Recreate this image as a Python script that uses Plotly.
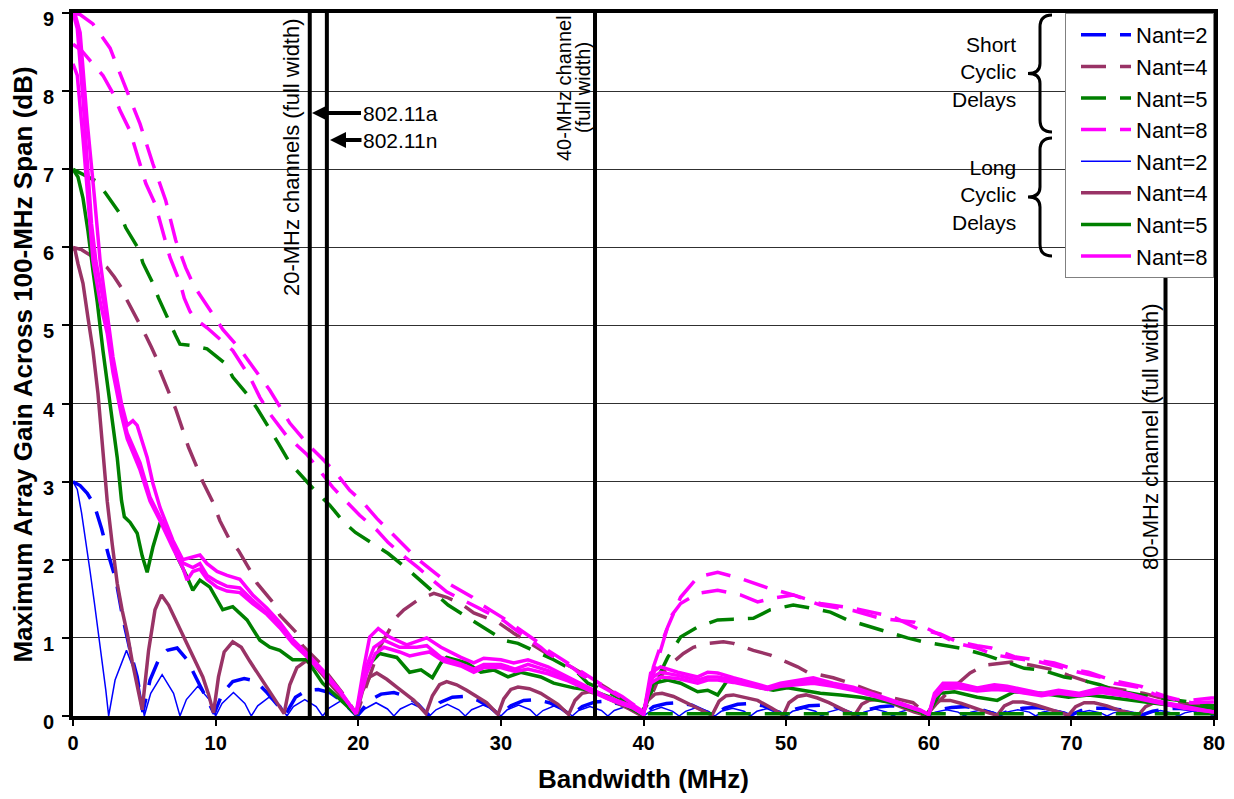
import plotly.graph_objects as go

# ---------------- data ----------------
x_ticks = [0, 10, 20, 30, 40, 50, 60, 70, 80]
y_ticks = [0, 1, 2, 3, 4, 5, 6, 7, 8, 9]
legend_names = ["Nant=2", "Nant=4", "Nant=5", "Nant=8"]

# Short cyclic delays, Nant=2 (blue dashed)
short2_x = [0, 0.5, 1.0, 1.5, 2.0, 2.5, 3.0, 3.5, 4.0, 4.5, 4.9,
            5.4, 6.0, 6.6, 7.3, 8.0, 8.6, 9.3, 9.9,
            10.5, 11.2, 12.0, 12.8, 13.6, 14.9,
            15.6, 16.4, 17.2, 18.0, 18.8, 19.9,
            20.8, 21.6, 22.5, 23.4, 24.2, 24.9,
            25.7, 26.6, 27.5, 28.4, 29.2, 29.9,
            30.7, 31.6, 32.5, 33.4, 34.2, 34.9,
            35.7, 36.6, 37.5, 38.4, 39.2, 39.9,
            40.7, 41.6, 42.5, 43.4, 44.9,
            45.7, 46.6, 47.5, 48.4, 49.9,
            50.7, 51.6, 52.5, 53.4, 54.9,
            55.7, 56.6, 57.5, 58.4, 59.9,
            60.7, 61.6, 62.5, 63.4, 64.9,
            65.7, 66.6, 67.5, 68.4, 69.9,
            70.7, 71.6, 72.5, 73.4, 74.9,
            75.7, 76.6, 77.5, 78.4, 79.9]
short2_y = [3.0, 2.95, 2.85, 2.7, 2.4, 2.05, 1.75, 1.25, 0.84, 0.5, 0.05,
            0.46, 0.72, 0.84, 0.87, 0.72, 0.5, 0.25, 0.03,
            0.3, 0.44, 0.48, 0.45, 0.3, 0.02,
            0.24, 0.33, 0.34, 0.3, 0.2, 0.0,
            0.2, 0.28, 0.3, 0.25, 0.15, 0.01,
            0.17, 0.24, 0.25, 0.2, 0.12, 0.01,
            0.13, 0.2, 0.21, 0.17, 0.1, 0.01,
            0.12, 0.18, 0.19, 0.15, 0.08, 0.01,
            0.12, 0.16, 0.17, 0.14, 0.01,
            0.1, 0.15, 0.16, 0.13, 0.01,
            0.09, 0.13, 0.14, 0.12, 0.01,
            0.08, 0.12, 0.13, 0.1, 0.01,
            0.08, 0.11, 0.12, 0.1, 0.01,
            0.07, 0.1, 0.11, 0.09, 0.01,
            0.07, 0.1, 0.1, 0.08, 0.01,
            0.06, 0.09, 0.1, 0.08, 0.01]

# Short cyclic delays, Nant=4 (maroon dashed)
short4_x = [0, 0.6, 1.2, 1.8, 2.4, 2.9, 3.4, 3.8, 4.3, 4.7, 5.1, 5.5, 5.9, 6.1, 6.5,
            6.8, 7.2, 7.7, 8.1, 8.7, 9.1, 9.8, 10.3, 11.0, 11.6, 12.4, 12.9, 14.0,
            14.5, 15.7, 16.1, 17.3, 17.8, 18.9, 19.9,
            20.5, 21.0, 21.5, 22.7, 23.2, 24.3, 25.3, 26.2, 27.2, 28.1, 29.8, 30.9,
            32.8, 33.3, 34.9, 35.6, 36.5, 37.5, 38.7, 39.9,
            40.4, 41.0, 41.7, 42.8, 43.5, 44.5, 45.6, 46.3, 47.7, 48.9, 50.8, 51.5,
            53.3, 54.5, 56.1, 57.3, 58.9, 59.9,
            60.5, 61.5, 62.9, 63.9, 65.8, 67.2, 68.8, 69.8, 71.6, 72.3, 75.1, 76.1,
            78.0, 80.0]
short4_y = [6.0, 5.97, 5.9, 5.82, 5.74, 5.62, 5.48, 5.32, 5.15, 5.02, 4.87, 4.72, 4.56, 4.42, 4.24,
            4.1, 3.93, 3.66, 3.44, 3.18, 3.0, 2.74, 2.5, 2.25, 2.12, 1.87, 1.7, 1.46,
            1.29, 1.06, 0.9, 0.68, 0.55, 0.29, 0.02,
            0.35, 0.6, 0.88, 1.27, 1.36, 1.5, 1.57, 1.52, 1.44, 1.32, 1.2, 1.06,
            0.85, 0.79, 0.63, 0.55, 0.46, 0.35, 0.2, 0.02,
            0.2, 0.45, 0.63, 0.8, 0.88, 0.93, 0.95, 0.93, 0.84, 0.78, 0.63, 0.56,
            0.49, 0.42, 0.31, 0.24, 0.17, 0.02,
            0.15, 0.33, 0.55, 0.65, 0.69, 0.65, 0.59, 0.52, 0.42, 0.37, 0.29, 0.24,
            0.16, 0.1]

# Short cyclic delays, Nant=5 (green dashed)
short5_x = [0, 0.8, 1.6, 2.3, 3.3, 3.7, 4.6, 4.9, 5.6, 6.0, 6.7, 7.2, 7.5, 8.4, 9.4,
            10.7, 11.2, 12.3, 12.9, 13.8, 14.4, 15.2, 15.9, 17.1, 18.0, 19.0, 19.8,
            21.2, 22.1, 23.4, 24.2, 25.5, 26.3, 27.6, 28.7, 30.2, 31.2, 32.8, 33.7,
            35.4, 36.1, 37.7, 38.8, 39.9,
            40.3, 40.9, 41.7, 42.6, 43.8, 45.2, 46.3, 47.7, 48.9, 50.5, 51.5, 53.1,
            54.3, 55.9, 56.8, 58.5, 59.6, 60.8, 62.2, 64.0, 65.0, 66.7, 67.9, 69.5,
            70.7, 72.0, 73.0, 74.9, 75.8, 77.5, 80.0]
short5_y = [7.0, 6.92, 6.85, 6.69, 6.43, 6.25, 5.98, 5.8, 5.54, 5.35, 5.06, 4.87, 4.76, 4.74, 4.7,
            4.51, 4.34, 4.1, 3.94, 3.68, 3.49, 3.24, 3.1, 2.86, 2.7, 2.48, 2.35,
            2.19, 2.08, 1.89, 1.76, 1.55, 1.42, 1.27, 1.14, 0.97, 0.93, 0.8, 0.72,
            0.55, 0.42, 0.29, 0.18, 0.03,
            0.2, 0.45, 0.75, 1.01, 1.14, 1.23, 1.24, 1.25, 1.36, 1.42, 1.39, 1.33,
            1.23, 1.14, 1.1, 1.0, 0.95, 0.91, 0.87, 0.78, 0.72, 0.61, 0.59, 0.5,
            0.46, 0.4, 0.33, 0.27, 0.24, 0.2, 0.13]

# Second Nant=5 short-delay curve that lies on the axis above 40 MHz
short5b_x = [40.3, 50.0, 60.0, 70.0, 80.0]
short5b_y = [0.03, 0.03, 0.03, 0.03, 0.03]

# Short cyclic delays, Nant=8 (two magenta dashed curves)
short8a_x = [0, 0.5, 1.4, 2.6, 3.7, 4.7, 5.6, 6.5, 7.2, 7.9, 8.5, 9.6, 10.5, 11.7, 12.8,
             13.8, 15.2, 16.5, 17.5, 18.4, 19.4, 20.3, 21.3, 22.1, 23.3, 24.1, 25.4,
             26.3, 28.0, 28.7, 30.2, 31.2, 32.8, 33.3, 35.1, 35.6, 37.5, 38.5, 39.8, 40.0,
             40.3, 40.7, 41.2, 41.7, 42.6, 43.8, 45.2, 46.8, 48.7, 50.5, 52.4, 54.7,
             57.5, 59.2, 60.8, 62.0, 63.4, 64.4, 66.0, 67.6, 68.8, 70.3, 71.2, 73.0,
             74.9, 75.8, 76.8, 77.5, 78.4, 79.8, 80.0]
short8a_y = [9.0, 8.98, 8.86, 8.55, 8.04, 7.58, 7.07, 6.6, 6.09, 5.74, 5.5, 5.2, 4.95, 4.7, 4.42,
             4.17, 3.75, 3.47, 3.29, 3.12, 2.89, 2.74, 2.53, 2.38, 2.16, 2.02, 1.83,
             1.7, 1.52, 1.42, 1.25, 1.12, 0.92, 0.84, 0.63, 0.56, 0.35, 0.25, 0.08, 0.03,
             0.3, 0.63, 0.9, 1.14, 1.52, 1.78, 1.84, 1.76, 1.64, 1.55, 1.44, 1.38,
             1.27, 1.12, 1.05, 0.95, 0.9, 0.87, 0.76, 0.72, 0.68, 0.59, 0.56, 0.45,
             0.38, 0.3, 0.24, 0.21, 0.2, 0.23, 0.23]
short8b_x = [0, 0.6, 1.2, 2.1, 2.9, 3.3, 4.0, 4.5, 5.1, 5.75, 6.2, 6.8, 7.5, 7.8, 8.2,
             8.6, 9.4, 10.5, 11.2, 12.4, 13.1, 13.8, 15.0, 16.4, 17.5, 18.2, 19.3,
             20.1, 21.3, 22.1, 23.3, 24.2, 25.4, 26.2, 27.6, 28.7, 30.2, 31.2, 32.8,
             33.3, 35.1, 35.6, 37.5, 38.5, 39.8, 40.0,
             40.4, 41.0, 41.9, 42.6, 43.8, 45.2, 46.8, 48.0, 49.1, 50.5, 52.4, 54.7,
             56.6, 59.0, 60.8, 62.0, 63.4, 64.7, 66.0, 67.6, 69.3, 70.3, 72.0, 73.0,
             74.9, 75.8, 77.5, 78.4, 79.8, 80.0]
short8b_y = [8.6, 8.52, 8.39, 8.2, 7.94, 7.75, 7.49, 7.2, 6.82, 6.56, 6.25, 5.87, 5.55, 5.35, 5.18,
             5.08, 4.97, 4.8, 4.68, 4.34, 4.08, 3.87, 3.58, 3.35, 3.1, 2.93, 2.72,
             2.57, 2.38, 2.22, 2.03, 1.9, 1.71, 1.59, 1.46, 1.36, 1.22, 1.08, 0.88,
             0.8, 0.61, 0.53, 0.33, 0.23, 0.08, 0.03,
             0.35, 0.72, 1.27, 1.44, 1.57, 1.61, 1.55, 1.46, 1.51, 1.55, 1.42, 1.35,
             1.25, 1.2, 1.04, 0.93, 0.87, 0.78, 0.74, 0.7, 0.62, 0.57, 0.5, 0.42,
             0.36, 0.28, 0.2, 0.17, 0.18, 0.18]

# Long cyclic delays, Nant=2 (thin blue)
long2_x = [0, 0.3, 0.6, 0.9, 1.2, 1.5, 1.8, 2.1, 2.3, 2.5,
           2.95, 3.75, 4.55, 5.0, 5.45, 6.25, 7.05, 7.5, 7.95, 8.75, 9.55, 10.0,
           10.45, 11.25, 12.05, 12.5, 12.95, 13.75, 14.55, 15.0, 15.45, 16.25, 17.05, 17.5,
           17.95, 18.75, 19.55, 20.0, 20.45, 21.25, 22.05, 22.5, 22.95, 23.75, 24.55, 25.0,
           25.45, 26.25, 27.05, 27.5, 27.95, 28.75, 29.55, 30.0, 30.45, 31.25, 32.05, 32.5,
           32.95, 33.75, 34.55, 35.0, 35.45, 36.25, 37.05, 37.5, 37.95, 38.75, 39.55, 40.0,
           40.45, 41.25, 42.05, 42.5, 42.95, 43.75, 44.55, 45.0, 45.45, 46.25, 47.05, 47.5,
           47.95, 48.75, 49.55, 50.0, 50.45, 51.25, 52.05, 52.5, 52.95, 53.75, 54.55, 55.0,
           55.45, 56.25, 57.05, 57.5, 57.95, 58.75, 59.55, 60.0, 60.45, 61.25, 62.05, 62.5,
           62.95, 63.75, 64.55, 65.0, 65.45, 66.25, 67.05, 67.5, 67.95, 68.75, 69.55, 70.0,
           70.45, 71.25, 72.05, 72.5, 72.95, 73.75, 74.55, 75.0, 75.45, 76.25, 77.05, 77.5,
           77.95, 78.75, 79.55, 80.0]
long2_y = [3.0, 2.9, 2.6, 2.25, 1.85, 1.45, 1.05, 0.65, 0.33, 0.0,
           0.46, 0.84, 0.46, 0.0, 0.29, 0.53, 0.29, 0.0, 0.21, 0.38, 0.21, 0.0,
           0.16, 0.3, 0.16, 0.0, 0.13, 0.24, 0.13, 0.0, 0.12, 0.21, 0.12, 0.0,
           0.1, 0.19, 0.1, 0.0, 0.09, 0.17, 0.09, 0.0, 0.09, 0.16, 0.09, 0.0,
           0.08, 0.15, 0.08, 0.0, 0.08, 0.14, 0.08, 0.0, 0.08, 0.14, 0.08, 0.0,
           0.07, 0.13, 0.07, 0.0, 0.07, 0.12, 0.07, 0.0, 0.07, 0.12, 0.07, 0.0,
           0.06, 0.11, 0.06, 0.0, 0.06, 0.11, 0.06, 0.0, 0.06, 0.1, 0.06, 0.0,
           0.06, 0.1, 0.06, 0.0, 0.06, 0.1, 0.06, 0.0, 0.05, 0.09, 0.05, 0.0,
           0.05, 0.09, 0.05, 0.0, 0.05, 0.09, 0.05, 0.0, 0.05, 0.08, 0.05, 0.0,
           0.05, 0.08, 0.05, 0.0, 0.05, 0.08, 0.05, 0.0, 0.05, 0.08, 0.05, 0.0,
           0.04, 0.07, 0.04, 0.0, 0.04, 0.07, 0.04, 0.0, 0.04, 0.07, 0.04, 0.0,
           0.04, 0.07, 0.04, 0.0]

# Long cyclic delays, Nant=4 (maroon solid)
long4_x = [0, 0.15, 0.35, 0.7, 1.05, 1.4, 1.75, 2.1, 2.4, 2.75, 3.1, 3.45, 3.8, 4.15, 4.5, 4.85,
           5.3, 5.75, 6.2, 6.7, 7.3, 8.2, 9.1, 9.5, 9.85,
           10.2, 10.6, 11.2, 11.8, 12.4, 13.1, 14.0, 14.8,
           15.2, 15.7, 16.3, 16.8, 17.4, 18.2, 19.0, 19.85,
           20.3, 20.8, 21.3, 22.0, 22.7, 23.9, 24.75,
           25.2, 25.7, 26.2, 26.9, 27.6, 29.0, 29.8,
           30.2, 30.7, 31.2, 32.0, 32.8, 34.0, 34.75,
           35.2, 35.7, 36.2, 37.0, 37.8, 39.0, 39.8,
           40.3, 40.8, 41.3, 42.1, 43.0, 44.0, 44.8,
           45.3, 45.8, 46.3, 47.1, 48.0, 49.0, 49.8,
           50.2, 50.8, 51.4, 52.2, 53.0, 54.0, 54.8,
           55.3, 55.8, 56.4, 57.2, 58.0, 59.0, 59.8,
           60.3, 60.8, 61.5, 62.3, 63.2, 64.2, 64.8,
           65.3, 65.9, 66.6, 67.5, 68.5, 69.3, 69.8,
           70.3, 70.9, 71.6, 72.5, 73.4, 74.2, 74.7,
           75.2, 75.8, 76.5, 77.5, 78.5, 80.0]
long4_y = [6.0, 5.96, 5.79, 5.54, 5.1, 4.68, 4.13, 3.4, 2.75, 2.2, 1.7, 1.35, 1.06, 0.7, 0.37, 0.08,
           0.84, 1.36, 1.55, 1.42, 1.19, 0.84, 0.5, 0.28, 0.04,
           0.5, 0.82, 0.95, 0.88, 0.7, 0.5, 0.24, 0.03,
           0.4, 0.62, 0.7, 0.68, 0.55, 0.38, 0.2, 0.02,
           0.32, 0.5, 0.55, 0.47, 0.37, 0.2, 0.03,
           0.26, 0.4, 0.44, 0.4, 0.33, 0.17, 0.02,
           0.22, 0.34, 0.37, 0.35, 0.29, 0.15, 0.02,
           0.2, 0.29, 0.31, 0.27, 0.2, 0.09, 0.01,
           0.2, 0.28, 0.29, 0.25, 0.17, 0.08, 0.01,
           0.19, 0.26, 0.27, 0.24, 0.2, 0.1, 0.01,
           0.17, 0.25, 0.27, 0.23, 0.17, 0.08, 0.01,
           0.15, 0.2, 0.21, 0.18, 0.12, 0.05, 0.01,
           0.14, 0.2, 0.2, 0.16, 0.1, 0.04, 0.01,
           0.13, 0.18, 0.18, 0.14, 0.08, 0.03, 0.01,
           0.12, 0.17, 0.17, 0.13, 0.07, 0.03, 0.01,
           0.12, 0.17, 0.16, 0.13, 0.1, 0.08]

# Long cyclic delays, Nant=5 (green solid)
long5_x = [0, 0.35, 0.7, 1.05, 1.4, 1.7, 2.1, 2.6, 3.1, 3.4, 3.6, 4.0, 4.5, 4.85, 5.2, 5.6,
           6.1, 6.4, 6.8, 7.3, 8.0, 8.4, 8.9, 9.6, 10.5, 11.2, 12.2, 13.1, 13.8, 14.5,
           15.4, 16.4, 17.5, 18.7, 19.85,
           20.6, 21.5, 22.7, 23.6, 24.4, 25.2, 25.8, 26.2, 27.6, 28.6, 29.5, 30.5, 31.4,
           32.8, 33.7, 35.1, 36.3, 37.5, 38.8, 39.9,
           40.7, 41.7, 42.6, 43.8, 44.5, 45.2, 45.9, 46.8, 48.0, 49.1, 50.1, 51.0, 52.4,
           53.8, 55.2, 57.5, 59.9,
           60.8, 61.8, 63.4, 64.8, 66.0, 67.9, 69.8, 71.2, 73.0, 74.9, 76.8, 80.0]
long5_y = [7.0, 6.9, 6.63, 6.21, 5.7, 5.3, 4.68, 4.0, 3.31, 2.76, 2.55, 2.48, 2.34, 2.05, 1.84, 2.16,
           2.47, 2.5, 2.3, 2.04, 1.78, 1.61, 1.74, 1.65, 1.36, 1.4, 1.23, 0.97, 0.88, 0.84,
           0.72, 0.72, 0.42, 0.22, 0.02,
           0.63, 0.8, 0.75, 0.56, 0.59, 0.49, 0.68, 0.75, 0.68, 0.56, 0.59, 0.5, 0.56,
           0.5, 0.42, 0.36, 0.33, 0.25, 0.13, 0.02,
           0.42, 0.46, 0.42, 0.31, 0.33, 0.27, 0.46, 0.46, 0.37, 0.33, 0.36, 0.33, 0.29,
           0.27, 0.24, 0.17, 0.02,
           0.29, 0.31, 0.24, 0.2, 0.31, 0.29, 0.24, 0.27, 0.23, 0.18, 0.14, 0.1]

# Long cyclic delays, Nant=8 (three magenta solid curves)
long8a_x = [0, 0.15, 0.5, 1.0, 1.5, 1.9, 2.4, 2.8, 3.4, 3.8, 4.2, 4.5, 5.2, 5.6, 6.1, 6.6,
            7.0, 7.7, 8.4, 8.9, 9.4, 10.1, 10.8, 11.7, 12.6, 13.6, 14.5, 15.4, 16.4,
            17.5, 18.7, 19.85,
            20.4, 20.8, 21.4, 22.2, 23.4, 24.4, 24.8, 25.8, 27.2, 28.1, 28.8, 30.0,
            30.9, 31.9, 33.3, 34.7, 36.1, 37.5, 39.3, 40.0,
            40.5, 41.2, 42.4, 43.8, 44.5, 45.2, 46.3, 47.7, 48.7, 49.6, 51.0, 51.9,
            53.3, 54.7, 56.8, 59.4, 60.0,
            60.4, 61.0, 62.0, 63.4, 64.6, 65.5, 66.9, 67.9, 69.1, 70.5, 72.1, 74.0,
            75.8, 77.9, 80.0]
long8a_y = [9.0, 8.98, 8.75, 7.6, 6.65, 5.83, 5.15, 4.6, 4.0, 3.72, 3.78, 3.72, 3.31, 2.98, 2.67, 2.45,
            2.25, 2.0, 2.03, 2.06, 1.95, 1.85, 1.8, 1.75, 1.55, 1.38, 1.2, 0.98, 0.8,
            0.59, 0.33, 0.03,
            0.63, 1.01, 1.12, 1.01, 0.91, 0.97, 1.0, 0.88, 0.75, 0.68, 0.74, 0.72,
            0.68, 0.72, 0.63, 0.5, 0.37, 0.24, 0.12, 0.02,
            0.55, 0.63, 0.56, 0.5, 0.56, 0.55, 0.49, 0.42, 0.37, 0.42, 0.46, 0.49,
            0.42, 0.37, 0.24, 0.08, 0.02,
            0.29, 0.42, 0.42, 0.36, 0.4, 0.38, 0.33, 0.29, 0.33, 0.29, 0.36, 0.29,
            0.2, 0.12, 0.05]
long8b_x = [0, 0.3, 0.7, 1.0, 1.3, 1.6, 2.3, 2.8, 3.4, 3.8, 4.7, 5.4, 6.1, 7.0, 7.7, 8.4,
            8.9, 9.4, 10.1, 10.8, 11.7, 12.6, 13.6, 14.5, 15.4, 16.4, 17.5, 18.7, 19.85,
            20.5, 21.1, 21.8, 22.9, 24.1, 24.8, 25.8, 27.0, 28.1, 28.8, 30.0, 31.0,
            31.9, 33.3, 34.7, 36.1, 37.5, 39.3, 40.0,
            40.5, 41.2, 42.4, 43.8, 44.5, 45.2, 46.3, 47.7, 48.7, 49.6, 51.0, 51.9,
            53.3, 54.7, 56.8, 59.4, 60.0,
            60.4, 61.0, 62.0, 63.4, 64.6, 65.5, 66.9, 67.9, 69.1, 70.5, 72.1, 74.0,
            75.8, 77.9, 80.0]
long8b_y = [9.0, 8.8, 7.9, 7.1, 6.3, 5.83, 5.15, 4.46, 3.9, 3.62, 3.24, 2.8, 2.55, 2.21, 1.96, 1.9,
            1.95, 1.8, 1.72, 1.66, 1.64, 1.48, 1.32, 1.15, 0.95, 0.78, 0.57, 0.32, 0.03,
            0.6, 0.88, 0.97, 0.88, 0.88, 0.9, 0.75, 0.68, 0.6, 0.66, 0.66, 0.6,
            0.66, 0.58, 0.48, 0.35, 0.23, 0.1, 0.02,
            0.48, 0.56, 0.52, 0.46, 0.5, 0.5, 0.46, 0.4, 0.36, 0.4, 0.43, 0.45,
            0.4, 0.35, 0.23, 0.07, 0.02,
            0.26, 0.38, 0.39, 0.34, 0.37, 0.36, 0.31, 0.28, 0.31, 0.28, 0.33, 0.27,
            0.19, 0.11, 0.05]
long8c_x = [0, 0.3, 0.7, 1.0, 1.4, 1.9, 2.4, 2.8, 3.4, 3.8, 4.7, 5.4, 6.1, 7.0, 7.7, 8.0,
            8.4, 8.9, 9.4, 10.1, 10.8, 11.7, 12.6, 13.6, 14.5, 15.4, 16.4, 17.5, 18.7, 19.85,
            20.6, 21.2, 21.8, 22.9, 23.6, 24.4, 25.0, 26.0, 27.2, 28.1, 28.8, 30.0,
            31.0, 31.9, 33.3, 34.7, 36.1, 37.5, 39.3, 40.0,
            40.5, 41.2, 42.4, 43.8, 44.5, 45.2, 46.3, 47.7, 48.7, 49.6, 51.0, 51.9,
            53.3, 54.7, 56.8, 59.4, 60.0,
            60.4, 61.0, 62.0, 63.4, 64.6, 65.5, 66.9, 67.9, 69.1, 70.5, 72.1, 74.0,
            75.8, 77.9, 80.0]
long8c_y = [8.35, 8.2, 7.4, 6.7, 5.83, 5.3, 4.9, 4.4, 3.85, 3.55, 3.15, 2.75, 2.5, 2.15, 1.9, 1.74,
            1.85, 1.88, 1.75, 1.65, 1.6, 1.58, 1.44, 1.3, 1.13, 0.93, 0.76, 0.55, 0.31, 0.03,
            0.55, 0.8, 0.88, 0.82, 0.77, 0.8, 0.82, 0.7, 0.64, 0.56, 0.62, 0.62,
            0.57, 0.6, 0.54, 0.45, 0.33, 0.22, 0.1, 0.02,
            0.42, 0.5, 0.48, 0.42, 0.46, 0.46, 0.43, 0.38, 0.34, 0.38, 0.4, 0.42,
            0.38, 0.33, 0.22, 0.07, 0.02,
            0.24, 0.35, 0.36, 0.32, 0.34, 0.33, 0.29, 0.26, 0.29, 0.26, 0.3, 0.25,
            0.18, 0.1, 0.05]

# channel widths marked by vertical lines (MHz)
channel_lines = [16.6, 17.8, 36.6, 76.6]

# ---------------- styling ----------------
BLUE, MAROON, GREEN, MAGENTA = "#0000FF", "#993366", "#008000", "#FF00FF"
DASH = "25px,14px"
FONT = "Liberation Sans, Arial, sans-serif"

fig = go.Figure()


def add(x, y, color, width, dash, name, group, show=True):
    fig.add_trace(go.Scatter(
        x=x, y=y, mode="lines", name=name, legendgroup=group, showlegend=show,
        line=dict(color=color, width=width, dash=dash), hoverinfo="skip"))


add(short2_x, short2_y, BLUE, 3.5, DASH, legend_names[0], "s2")
add(short4_x, short4_y, MAROON, 3.5, DASH, legend_names[1], "s4")
add(short5_x, short5_y, GREEN, 3.5, DASH, legend_names[2], "s5")
add(short8a_x, short8a_y, MAGENTA, 3.5, DASH, legend_names[3], "s8")
add(long2_x, long2_y, BLUE, 1.5, "solid", legend_names[0], "l2")
add(long4_x, long4_y, MAROON, 3.5, "solid", legend_names[1], "l4")
add(long5_x, long5_y, GREEN, 3.5, "solid", legend_names[2], "l5")
add(long8a_x, long8a_y, MAGENTA, 3.5, "solid", legend_names[3], "l8")
add(short5b_x, short5b_y, GREEN, 3.5, DASH, legend_names[2], "s5", False)
add(short8b_x, short8b_y, MAGENTA, 3.5, DASH, legend_names[3], "s8", False)
add(long8b_x, long8b_y, MAGENTA, 3.5, "solid", legend_names[3], "l8", False)
add(long8c_x, long8c_y, MAGENTA, 3.5, "solid", legend_names[3], "l8", False)

# ---------------- layout geometry (page pixels -> paper) ----------------
# the page body has an 8 px margin, so the figure is placed 8 px in from the corner
OFF = 8
W_FIG, H_FIG = 1234 - OFF, 799 - OFF
PL, PR, PT, PB = 73, 1214, 13, 716          # plot-area edges in page pixels
ML, MT = PL - OFF, PT - OFF
MR, MB = W_FIG - (PR - OFF), H_FIG - (PB - OFF)
PW, PH = PR - PL, PB - PT


def px(xp):
    return (xp - PL) / PW


def py(yp):
    return (PB - yp) / PH


shapes = []
# white masks that break the gridlines behind the text labels (above grid, below traces)
for (x0, x1, y0, y1) in [(277, 307, 14, 302), (552, 593, 14, 162), (1136, 1162, 302, 572),
                         (950, 1018, 30, 112), (950, 1018, 154, 236)]:
    shapes.append(dict(type="rect", xref="paper", yref="paper", x0=px(x0), x1=px(x1),
                       y0=py(y1), y1=py(y0), fillcolor="white", line=dict(width=0),
                       layer="between"))
for xv in channel_lines:
    shapes.append(dict(type="line", xref="x", yref="paper", x0=xv, x1=xv, y0=0, y1=1,
                       line=dict(color="black", width=4), layer="above"))


def brace(xa, yt, yb):
    ym = (yt + yb) / 2
    pts = [("M", xa + 12, yt), ("Q", xa, yt), ("", xa, yt + 12), ("L", xa, ym - 10),
           ("Q", xa, ym), ("", xa - 12, ym), ("Q", xa, ym), ("", xa, ym + 10),
           ("L", xa, yb - 12), ("Q", xa, yb), ("", xa + 12, yb)]
    s = ""
    for c, a, b in pts:
        s += f"{c}{px(a):.5f},{py(b):.5f} "
    return dict(type="path", xref="paper", yref="paper", path=s.strip(),
                line=dict(color="black", width=3), layer="above")


shapes.append(brace(1040, 15, 132))
shapes.append(brace(1040, 138, 256))

annotations = [
    dict(text="20-MHz channels (full width)", textangle=-90, xref="paper", yref="paper",
         x=px(292), y=py(157), xanchor="center", yanchor="middle", showarrow=False,
         font=dict(family=FONT, size=22, color="black")),
    dict(text="40-MHz channel", textangle=-90, xref="paper", yref="paper",
         x=px(564), y=py(88), xanchor="center", yanchor="middle", showarrow=False,
         font=dict(family=FONT, size=20, color="black")),
    dict(text="(full width)", textangle=-90, xref="paper", yref="paper",
         x=px(583), y=py(88), xanchor="center", yanchor="middle", showarrow=False,
         font=dict(family=FONT, size=20, color="black")),
    dict(text="80-MHz channel (full width)", textangle=-90, xref="paper", yref="paper",
         x=px(1150), y=py(437), xanchor="center", yanchor="middle", showarrow=False,
         font=dict(family=FONT, size=22, color="black")),
    dict(text="802.11a", xref="paper", yref="paper", x=px(312), y=py(113),
         ax=88, ay=0, showarrow=True, arrowhead=2, arrowsize=0.8, arrowwidth=4,
         arrowcolor="black", font=dict(family=FONT, size=21, color="black")),
    dict(text="802.11n", xref="paper", yref="paper", x=px(330), y=py(140),
         ax=70, ay=0, showarrow=True, arrowhead=2, arrowsize=0.8, arrowwidth=4,
         arrowcolor="black", font=dict(family=FONT, size=21, color="black")),
    dict(text="Short<br>Cyclic<br>Delays", xref="paper", yref="paper", x=px(1018), y=py(72),
         xanchor="right", yanchor="middle", align="right", showarrow=False,
         font=dict(family=FONT, size=21, color="black")),
    dict(text="Long<br>Cyclic<br>Delays", xref="paper", yref="paper", x=px(1018), y=py(195),
         xanchor="right", yanchor="middle", align="right", showarrow=False,
         font=dict(family=FONT, size=21, color="black")),
]

fig.update_layout(
    width=W_FIG, height=H_FIG,
    margin=dict(l=ML, r=MR, t=MT, b=MB, pad=0),
    paper_bgcolor="white", plot_bgcolor="white",
    font=dict(family=FONT, color="black"),
    shapes=shapes, annotations=annotations,
    legend=dict(x=1, xanchor="right", y=1, yanchor="top", bgcolor="white",
                bordercolor="#808080", borderwidth=1, itemwidth=50, tracegroupgap=0,
                indentation=10,
                font=dict(family=FONT, size=22, color="black")),
    xaxis=dict(range=[0, 80], tickvals=x_ticks, ticktext=[str(v) for v in x_ticks],
               showgrid=False, zeroline=False, ticks="outside", ticklen=6, tickwidth=2,
               tickcolor="black", showline=True, linewidth=4, linecolor="black", mirror=True,
               layer="below traces", automargin=False, ticklabeloverflow="allow",
               tickfont=dict(family=FONT, size=20, weight="bold", color="black"),
               title=dict(text="Bandwidth (MHz)", standoff=18,
                          font=dict(family=FONT, size=26, weight="bold", color="black"))),
    yaxis=dict(range=[0, 9], tickvals=y_ticks, ticktext=[str(v) for v in y_ticks],
               showgrid=True, gridcolor="#303030", gridwidth=1, zeroline=False,
               ticks="outside", ticklen=7, tickwidth=2, tickcolor="black",
               showline=True, linewidth=4, linecolor="black", mirror=True,
               layer="below traces", ticklabelstandoff=4, automargin=False,
               ticklabeloverflow="allow", ticklabelshift=6,
               tickfont=dict(family=FONT, size=20, weight="bold", color="black"),
               title=dict(text="Maximum Array Gain Across 100-MHz Span (dB)", standoff=8,
                          font=dict(family=FONT, size=26, weight="bold", color="black"))),
)

fig.write_html("out.html")
